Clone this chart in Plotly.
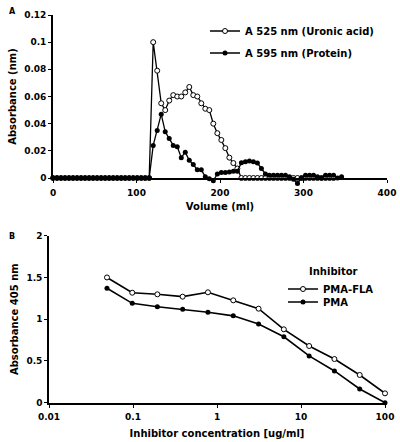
import plotly.graph_objects as go

# ---------------- Panel A data ----------------
volume_ml = [0, 4.8, 9.6, 14.4, 19.2, 24, 28.8, 33.6, 38.4, 43.2, 48, 52.8, 57.6, 62.4,
             67.2, 72, 76.8, 81.6, 86.4, 91.2, 96, 100.8, 105.6, 110.4, 115.2, 120, 124.8,
             129.6, 134.4, 139.2, 144, 148.8, 153.6, 158.4, 163.2, 168, 172.8, 177.6, 182.4,
             187.2, 192, 196.8, 201.6, 206.4, 211.2, 216, 220.8, 225.6, 230.4, 235.2, 240,
             244.8, 249.6, 254.4, 259.2, 264, 268.8, 273.6, 278.4, 283.2, 288, 292.8, 297.6,
             302.4, 307.2, 312, 316.8, 321.6, 326.4, 331.2, 336, 340.8, 345.6]

uronic_525 = [0] * 25 + [0.100, 0.079, 0.055, 0.050, 0.057, 0.061, 0.060, 0.060, 0.063,
                         0.067, 0.061, 0.060, 0.055, 0.051, 0.050, 0.040, 0.033, 0.028,
                         0.022, 0.015, 0.011, 0.007] + [0] * 24

protein_595 = [0] * 25 + [0.024, 0.035, 0.047, 0.034, 0.029, 0.024, 0.023, 0.015, 0.019,
                          0.013, 0.010, 0.006, 0.006, 0.001, -0.0005, -0.002, 0.003, 0.004,
                          0.004, 0.0045, 0.005, 0.005, 0.0113, 0.012, 0.0125, 0.012, 0.011,
                          0.007, 0.003, 0.002, 0.002, 0.002, 0.002, 0.002, 0.001, -0.001,
                          -0.004, 0.000, 0.002, 0.002, 0.002, 0.001, 0.000, 0.002, 0.002,
                          0.002, 0.000, 0.001]
volume_uronic = volume_ml[:len(uronic_525)]
volume_protein = volume_ml[:len(protein_595)]

# ---------------- Panel B data ----------------
conc_ug_ml = [0.049, 0.098, 0.195, 0.39, 0.78, 1.5625, 3.125, 6.25, 12.5, 25, 50, 100]
pma_fla = [1.50, 1.317, 1.298, 1.27, 1.322, 1.226, 1.126, 0.879, 0.679, 0.523, 0.332, 0.112]
pma = [1.37, 1.19, 1.15, 1.12, 1.083, 1.04, 0.943, 0.79, 0.56, 0.38, 0.164, 0.0]

FONT = "DejaVu Sans"
W, H = 400, 442


def px_x(p):
    return p / W


def px_y(p):
    return 1 - p / H


# panel A plot area in pixels
A_L, A_R, A_T, A_B = 53, 387, 15, 178
A_YMAX = 0.12
EXT = 9  # extra pixels below the axis so dips under zero are not clipped
A_YMIN_EXT = -A_YMAX * EXT / (A_B - A_T)

fig = go.Figure()

fig.add_trace(go.Scatter(
    x=volume_uronic, y=uronic_525, name="A 525 nm (Uronic acid)", mode="lines+markers",
    line=dict(color="black", width=1.3),
    marker=dict(symbol="circle", size=5, color="white", line=dict(color="black", width=1)),
    xaxis="x", yaxis="y", legend="legend", cliponaxis=False))
fig.add_trace(go.Scatter(
    x=volume_protein, y=protein_595, name="A 595 nm (Protein)", mode="lines+markers",
    line=dict(color="black", width=1.3),
    marker=dict(symbol="circle", size=5, color="black"),
    xaxis="x3", yaxis="y3", legend="legend2", cliponaxis=False))

fig.add_trace(go.Scatter(
    x=conc_ug_ml, y=pma_fla, name="PMA-FLA", mode="lines+markers",
    line=dict(color="black", width=1.6),
    marker=dict(symbol="circle", size=5, color="white", line=dict(color="black", width=1)),
    xaxis="x2", yaxis="y2", legend="legend3", cliponaxis=False))
fig.add_trace(go.Scatter(
    x=conc_ug_ml, y=pma, name="PMA", mode="lines+markers",
    line=dict(color="black", width=1.6),
    marker=dict(symbol="circle", size=5, color="black"),
    xaxis="x2", yaxis="y2", legend="legend4", cliponaxis=False))

tickfont = dict(family=FONT, size=9, color="black", weight="bold")
titlefont = dict(family=FONT, size=10, color="black", weight="bold")
axis_common = dict(showline=True, linecolor="black", linewidth=1.6, ticks="outside",
                   ticklen=3, tickwidth=1.3, tickcolor="black", showgrid=False,
                   zeroline=False, tickfont=tickfont, mirror=False, automargin=False)
hidden_axis = dict(visible=False, showgrid=False, zeroline=False, automargin=False)

legend_common = dict(bgcolor="rgba(0,0,0,0)", borderwidth=0, itemwidth=30,
                     font=dict(family=FONT, size=10, color="black", weight="bold"),
                     xanchor="left", yanchor="middle", itemclick=False)

fig.update_layout(
    width=W, height=H, margin=dict(l=0, r=0, t=0, b=0, pad=0, autoexpand=False),
    autosize=False,
    paper_bgcolor="white", plot_bgcolor="rgba(0,0,0,0)", showlegend=True,
    xaxis=dict(domain=[px_x(A_L), px_x(A_R)], range=[0, 400], anchor="y",
               tickvals=[0, 100, 200, 300, 400], ticklabelstandoff=2,
               title=dict(text="Volume (ml)", font=titlefont, standoff=6), **axis_common),
    yaxis=dict(domain=[px_y(A_B), px_y(A_T)], range=[0, A_YMAX], anchor="x",
               tickvals=[0, 0.02, 0.04, 0.06, 0.08, 0.1, 0.12],
               ticktext=["0", "0.02", "0.04", "0.06", "0.08", "0.1", "0.12"],
               title=dict(text="Absorbance (nm)", font=titlefont, standoff=6), **axis_common),
    xaxis3=dict(domain=[px_x(A_L), px_x(A_R)], range=[0, 400], anchor="y3", **hidden_axis),
    yaxis3=dict(domain=[px_y(A_B + EXT), px_y(A_T)], range=[A_YMIN_EXT, A_YMAX],
                anchor="x3", **hidden_axis),
    xaxis2=dict(domain=[px_x(49), px_x(385)], type="log", range=[-2, 2], anchor="y2",
                tickvals=[0.01, 0.1, 1, 10, 100], ticktext=["0.01", "0.1", "1", "10", "100"],
                ticklabelstandoff=2,
                title=dict(text="Inhibitor concentration [ug/ml]", font=titlefont, standoff=9),
                **axis_common),
    yaxis2=dict(domain=[px_y(402.7), px_y(235.7)], range=[0, 2], anchor="x2",
                tickvals=[0, 0.5, 1, 1.5, 2], ticktext=["0", "0.5", "1", "1.5", "2"],
                title=dict(text="Absorbance 405 nm", font=titlefont, standoff=6),
                **axis_common),
    legend=dict(x=px_x(205), y=px_y(31), **legend_common),
    legend2=dict(x=px_x(205), y=px_y(53), **legend_common),
    legend3=dict(x=px_x(283), y=px_y(289), **legend_common),
    legend4=dict(x=px_x(283), y=px_y(302), **legend_common),
    annotations=[
        dict(text="A", x=px_x(12), y=px_y(11), xref="paper", yref="paper", showarrow=False,
             xanchor="center", yanchor="middle",
             font=dict(family=FONT, size=8, color="black", weight="bold")),
        dict(text="B", x=px_x(12), y=px_y(236), xref="paper", yref="paper", showarrow=False,
             xanchor="center", yanchor="middle",
             font=dict(family=FONT, size=8, color="black", weight="bold")),
        dict(text="Inhibitor", x=px_x(333), y=px_y(271), xref="paper", yref="paper",
             showarrow=False, xanchor="center", yanchor="middle", font=titlefont),
    ],
)

fig.write_html("out.html", config={"displayModeBar": False},
               post_script="document.body.style.margin='0px';")
